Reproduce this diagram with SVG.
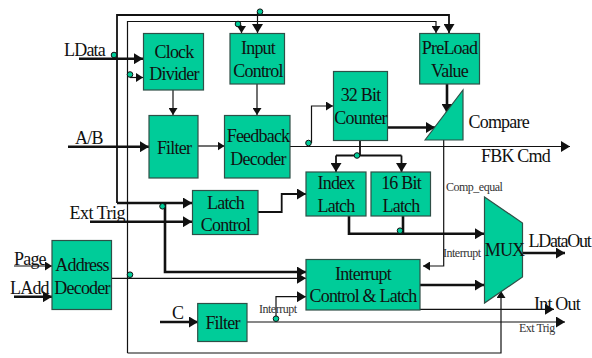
<svg xmlns="http://www.w3.org/2000/svg" width="592" height="358" viewBox="0 0 592 358">
<style>
text{font-family:"Liberation Serif","Times New Roman",serif;font-size:18px;fill:#111;text-anchor:middle;letter-spacing:-0.8px}
.l{text-anchor:start}
.s{font-size:12px;letter-spacing:-0.5px;fill:#333}
.n{fill:#00cc99;stroke:#2f4f47;stroke-width:1.2}
.w{fill:none;stroke:#111;stroke-width:1.2}
.m{fill:none;stroke:#111;stroke-width:1.8}
.b{fill:none;stroke:#111;stroke-width:2.6}
.d{fill:#00cc99;stroke:#111;stroke-width:1}
.h{fill:#111;stroke:none}
</style>
<defs>
<marker id="a" markerUnits="userSpaceOnUse" markerWidth="8" markerHeight="9" refX="7" refY="4.5" orient="auto"><path class="h" d="M0 0L7 4.500L0 9z"/></marker>
<marker id="t" markerUnits="userSpaceOnUse" markerWidth="10" markerHeight="11" refX="9" refY="5.5" orient="auto"><path class="h" d="M0 0L9 5.500L0 11z"/></marker>
</defs>
<g id="connectors">
<path class="m" d="M117 203V15H449V33" marker-end="url(#t)"/>
<path class="b" d="M117 203H192" marker-end="url(#t)"/>
<path class="w" d="M127.500 353V21.500H436V33" marker-end="url(#a)"/>
<path class="w" d="M127.500 353H501V291" marker-end="url(#a)"/>
<path class="b" d="M79 58.700H143" marker-end="url(#t)"/>
<path class="w" d="M130 77.500H143" marker-end="url(#a)"/>
<path class="w" d="M238 24L241.500 26V33" marker-end="url(#a)"/>
<path class="w" d="M257.500 12V33" marker-end="url(#t)"/>
<path class="w" d="M173 90V115" marker-end="url(#a)"/>
<path class="w" d="M257 84V115" marker-end="url(#a)"/>
<path class="b" d="M68 146.700H149" marker-end="url(#t)"/>
<path class="w" d="M198 146H224.500" marker-end="url(#a)"/>
<path class="w" d="M290 146.500H570" marker-end="url(#t)"/>
<path class="w" d="M311.500 143V106H333" marker-end="url(#a)"/>
<path class="b" d="M387 127.500H435" marker-end="url(#t)"/>
<path class="b" d="M447 84V113" marker-end="url(#t)"/>
<path class="m" d="M360 140V155.500"/>
<path class="m" d="M336 155.500H401.500"/>
<path class="m" d="M336 155.500V172" marker-end="url(#t)"/>
<path class="m" d="M401.500 155.500V172" marker-end="url(#t)"/>
<path class="w" d="M443.700 140V266H423" marker-end="url(#a)"/>
<path class="b" d="M90 221.700H192" marker-end="url(#t)"/>
<path class="m" d="M258 212H281.700V194H306" marker-end="url(#t)"/>
<path class="b" d="M349 216V233.700H484" marker-end="url(#t)"/>
<path class="b" d="M403 216V233.700"/>
<path class="b" d="M165 203V272H306" marker-end="url(#t)"/>
<path class="w" d="M111 278.300H306" marker-end="url(#t)"/>
<path class="b" d="M420 285H484" marker-end="url(#t)"/>
<path class="b" d="M523 253H565" marker-end="url(#t)"/>
<path class="w" d="M420 309.300H554" marker-end="url(#t)"/>
<path class="w" d="M247 322H565" marker-end="url(#t)"/>
<path class="w" d="M276 318V296.700H306" marker-end="url(#t)"/>
<path class="w" d="M14 266H52" marker-end="url(#a)"/>
<path class="b" d="M14 296.700H52" marker-end="url(#t)"/>
<path class="b" d="M160 322H198" marker-end="url(#t)"/>
</g>
<g id="junctions">
<circle class="d" cx="114" cy="55" r="2.800"/>
<circle class="d" cx="130" cy="74.500" r="2.800"/>
<circle class="d" cx="238" cy="24" r="2.800"/>
<circle class="d" cx="260" cy="11.700" r="2.800"/>
<circle class="d" cx="308.500" cy="143" r="2.800"/>
<circle class="d" cx="357" cy="155.500" r="2.800"/>
<circle class="d" cx="162.500" cy="206.300" r="2.800"/>
<circle class="d" cx="130" cy="274.700" r="2.800"/>
<circle class="d" cx="276" cy="318.700" r="2.800"/>
<circle class="d" cx="400" cy="230.700" r="2.800"/>
</g>
<g id="clock-divider"><rect class="n" x="143.500" y="33.500" width="60" height="56.500"/><text x="174" y="58">Clock</text><text x="174" y="80">Divider</text></g>
<g id="input-control"><rect class="n" x="230" y="33.500" width="54.500" height="50.500"/><text x="258" y="54">Input</text><text x="258" y="77">Control</text></g>
<g id="filter-1"><rect class="n" x="149" y="115.500" width="49" height="62.500"/><text x="174" y="154">Filter</text></g>
<g id="feedback-decoder"><rect class="n" x="224.500" y="115.500" width="65.500" height="62.500"/><text x="258" y="142">Feedback</text><text x="258" y="165">Decoder</text></g>
<g id="counter"><rect class="n" x="333.500" y="71.500" width="54" height="69"/><text x="360.500" y="101">32 Bit</text><text x="360.500" y="124">Counter</text></g>
<g id="preload"><rect class="n" x="419.700" y="33.500" width="59.800" height="50.500"/><text x="449.500" y="54">PreLoad</text><text x="449.500" y="77">Value</text></g>
<g id="compare"><path class="n" d="M425 140L463 90V140z"/><text class="l" x="468.500" y="128">Compare</text></g>
<g id="index-latch"><rect class="n" x="306" y="172" width="60" height="44"/><text x="336" y="189">Index</text><text x="336" y="212">Latch</text></g>
<g id="bit-latch"><rect class="n" x="371" y="172" width="59.500" height="44"/><text x="401" y="189">16 Bit</text><text x="401" y="212">Latch</text></g>
<g id="latch-control"><rect class="n" x="192.500" y="190.500" width="65.500" height="44"/><text x="225.500" y="208.500">Latch</text><text x="225.500" y="231">Control</text></g>
<g id="address-decoder"><rect class="n" x="52" y="240.500" width="59.500" height="69"/><text x="82" y="270.500">Address</text><text x="82" y="293.500">Decoder</text></g>
<g id="interrupt-control"><rect class="n" x="306" y="259.500" width="114" height="50.500"/><text x="363" y="279.700">Interrupt</text><text x="363" y="302">Control &amp; Latch</text></g>
<g id="filter-2"><rect class="n" x="197.700" y="303.500" width="49.300" height="38"/><text x="222.500" y="328.500">Filter</text></g>
<g id="mux"><path class="n" d="M484.500 197L522.500 223V277L484.500 303z"/><text x="504.500" y="256">MUX</text></g>
<g id="labels">
<text class="l" x="64" y="56">LData</text>
<text class="l" x="75" y="144">A/B</text>
<text class="l" x="69.500" y="219" style="letter-spacing:-0.5px">Ext Trig</text>
<text class="l" x="14" y="265">Page</text>
<text class="l" x="10" y="294">LAdd</text>
<text class="l" x="172" y="318.700">C</text>
<text class="l" x="481" y="162">FBK Cmd</text>
<text class="l" x="528.500" y="247" style="letter-spacing:-1.25px">LDataOut</text>
<text class="l" x="534" y="310">Int Out</text>
<text class="s l" x="446" y="190.500">Comp_equal</text>
<text class="s l" x="443" y="257">Interrupt</text>
<text class="s l" x="259" y="313">Interrupt</text>
<text class="s l" x="519" y="332">Ext Trig</text>
</g>
</svg>
